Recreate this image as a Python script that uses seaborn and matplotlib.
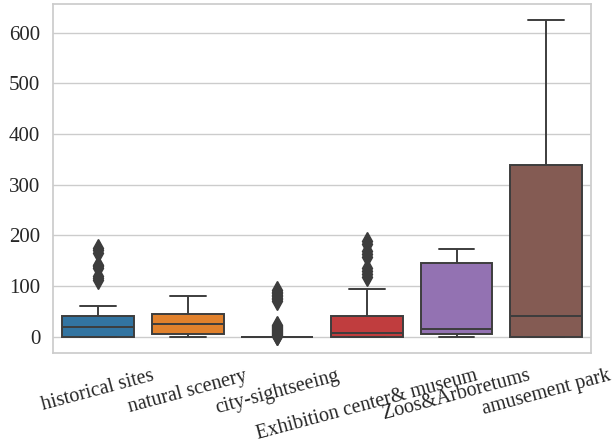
import numpy as np
import pandas as pd
import matplotlib.pyplot as plt
import matplotlib.transforms as mtransforms
import seaborn as sns

categories = ['historical sites', 'natural scenery', 'city-sightseeing',
              'Exhibition center& museum', 'Zoos&Arboretums', 'amusement park']

historical_sites = [0] * 12 + [1, 3, 5, 7, 9, 11, 13, 15, 16, 18, 19,
                               21, 23, 25, 27, 29, 31, 33, 36, 38, 40, 42, 52, 60,
                               112, 116, 120, 136, 139, 142, 166, 171, 176]
natural_scenery = [0, 1, 2, 3, 5, 6, 10, 14, 18, 22, 26,
                   29, 33, 37, 41, 45, 50, 56, 63, 71, 80]
city_sightseeing = [0] * 70 + [1, 2, 3, 5, 7, 9, 11, 13, 15, 17, 19, 21, 23,
                               71, 74, 77, 80, 83, 86, 89, 92]
exhibition_museum = [0] * 12 + [1, 1, 2, 2, 3, 4, 5, 6, 7, 7, 8,
                                10, 13, 16, 19, 22, 25, 28, 32, 36, 39, 42, 60, 95,
                                118, 124, 130, 136, 158, 164, 170, 184, 190]
zoos_arboretums = [0, 1, 2, 3, 4, 6, 8, 10, 12, 14, 16,
                   30, 60, 90, 120, 145, 152, 158, 164, 170, 174]
amusement_park = [0] * 6 + [5, 12, 22, 32, 41,
                            90, 150, 220, 290, 339, 380, 430, 490, 560, 625]

values = [historical_sites, natural_scenery, city_sightseeing,
          exhibition_museum, zoos_arboretums, amusement_park]

df = pd.DataFrame({
    'category': np.repeat(categories, [len(v) for v in values]),
    'value': np.concatenate(values),
})

sns.set_theme(style='whitegrid')
plt.rcParams['font.family'] = ['Liberation Serif', 'DejaVu Serif']

fig, ax = plt.subplots(figsize=(6.13, 4.46), dpi=100)
fig.subplots_adjust(left=0.087, right=0.964, bottom=0.209, top=0.991)

sns.boxplot(data=df, x='category', y='value', hue='category', palette='tab10',
            legend=False, ax=ax, linewidth=1.4,
            flierprops=dict(marker='d', markersize=9,
                            markerfacecolor='#3d3d3d', markeredgecolor='#3d3d3d'))

ax.set_xlabel('')
ax.set_ylabel('')
ax.tick_params(axis='y', labelsize=15)
ax.tick_params(axis='x', labelsize=14.5)
plt.xticks(rotation=15)

# 라벨 위치 미세 조정
for lab in ax.get_xticklabels():
    lab.set_transform(lab.get_transform() +
                      mtransforms.ScaledTranslation(0, -0.005, fig.dpi_scale_trans))

fig.savefig('out.png', dpi=100)
